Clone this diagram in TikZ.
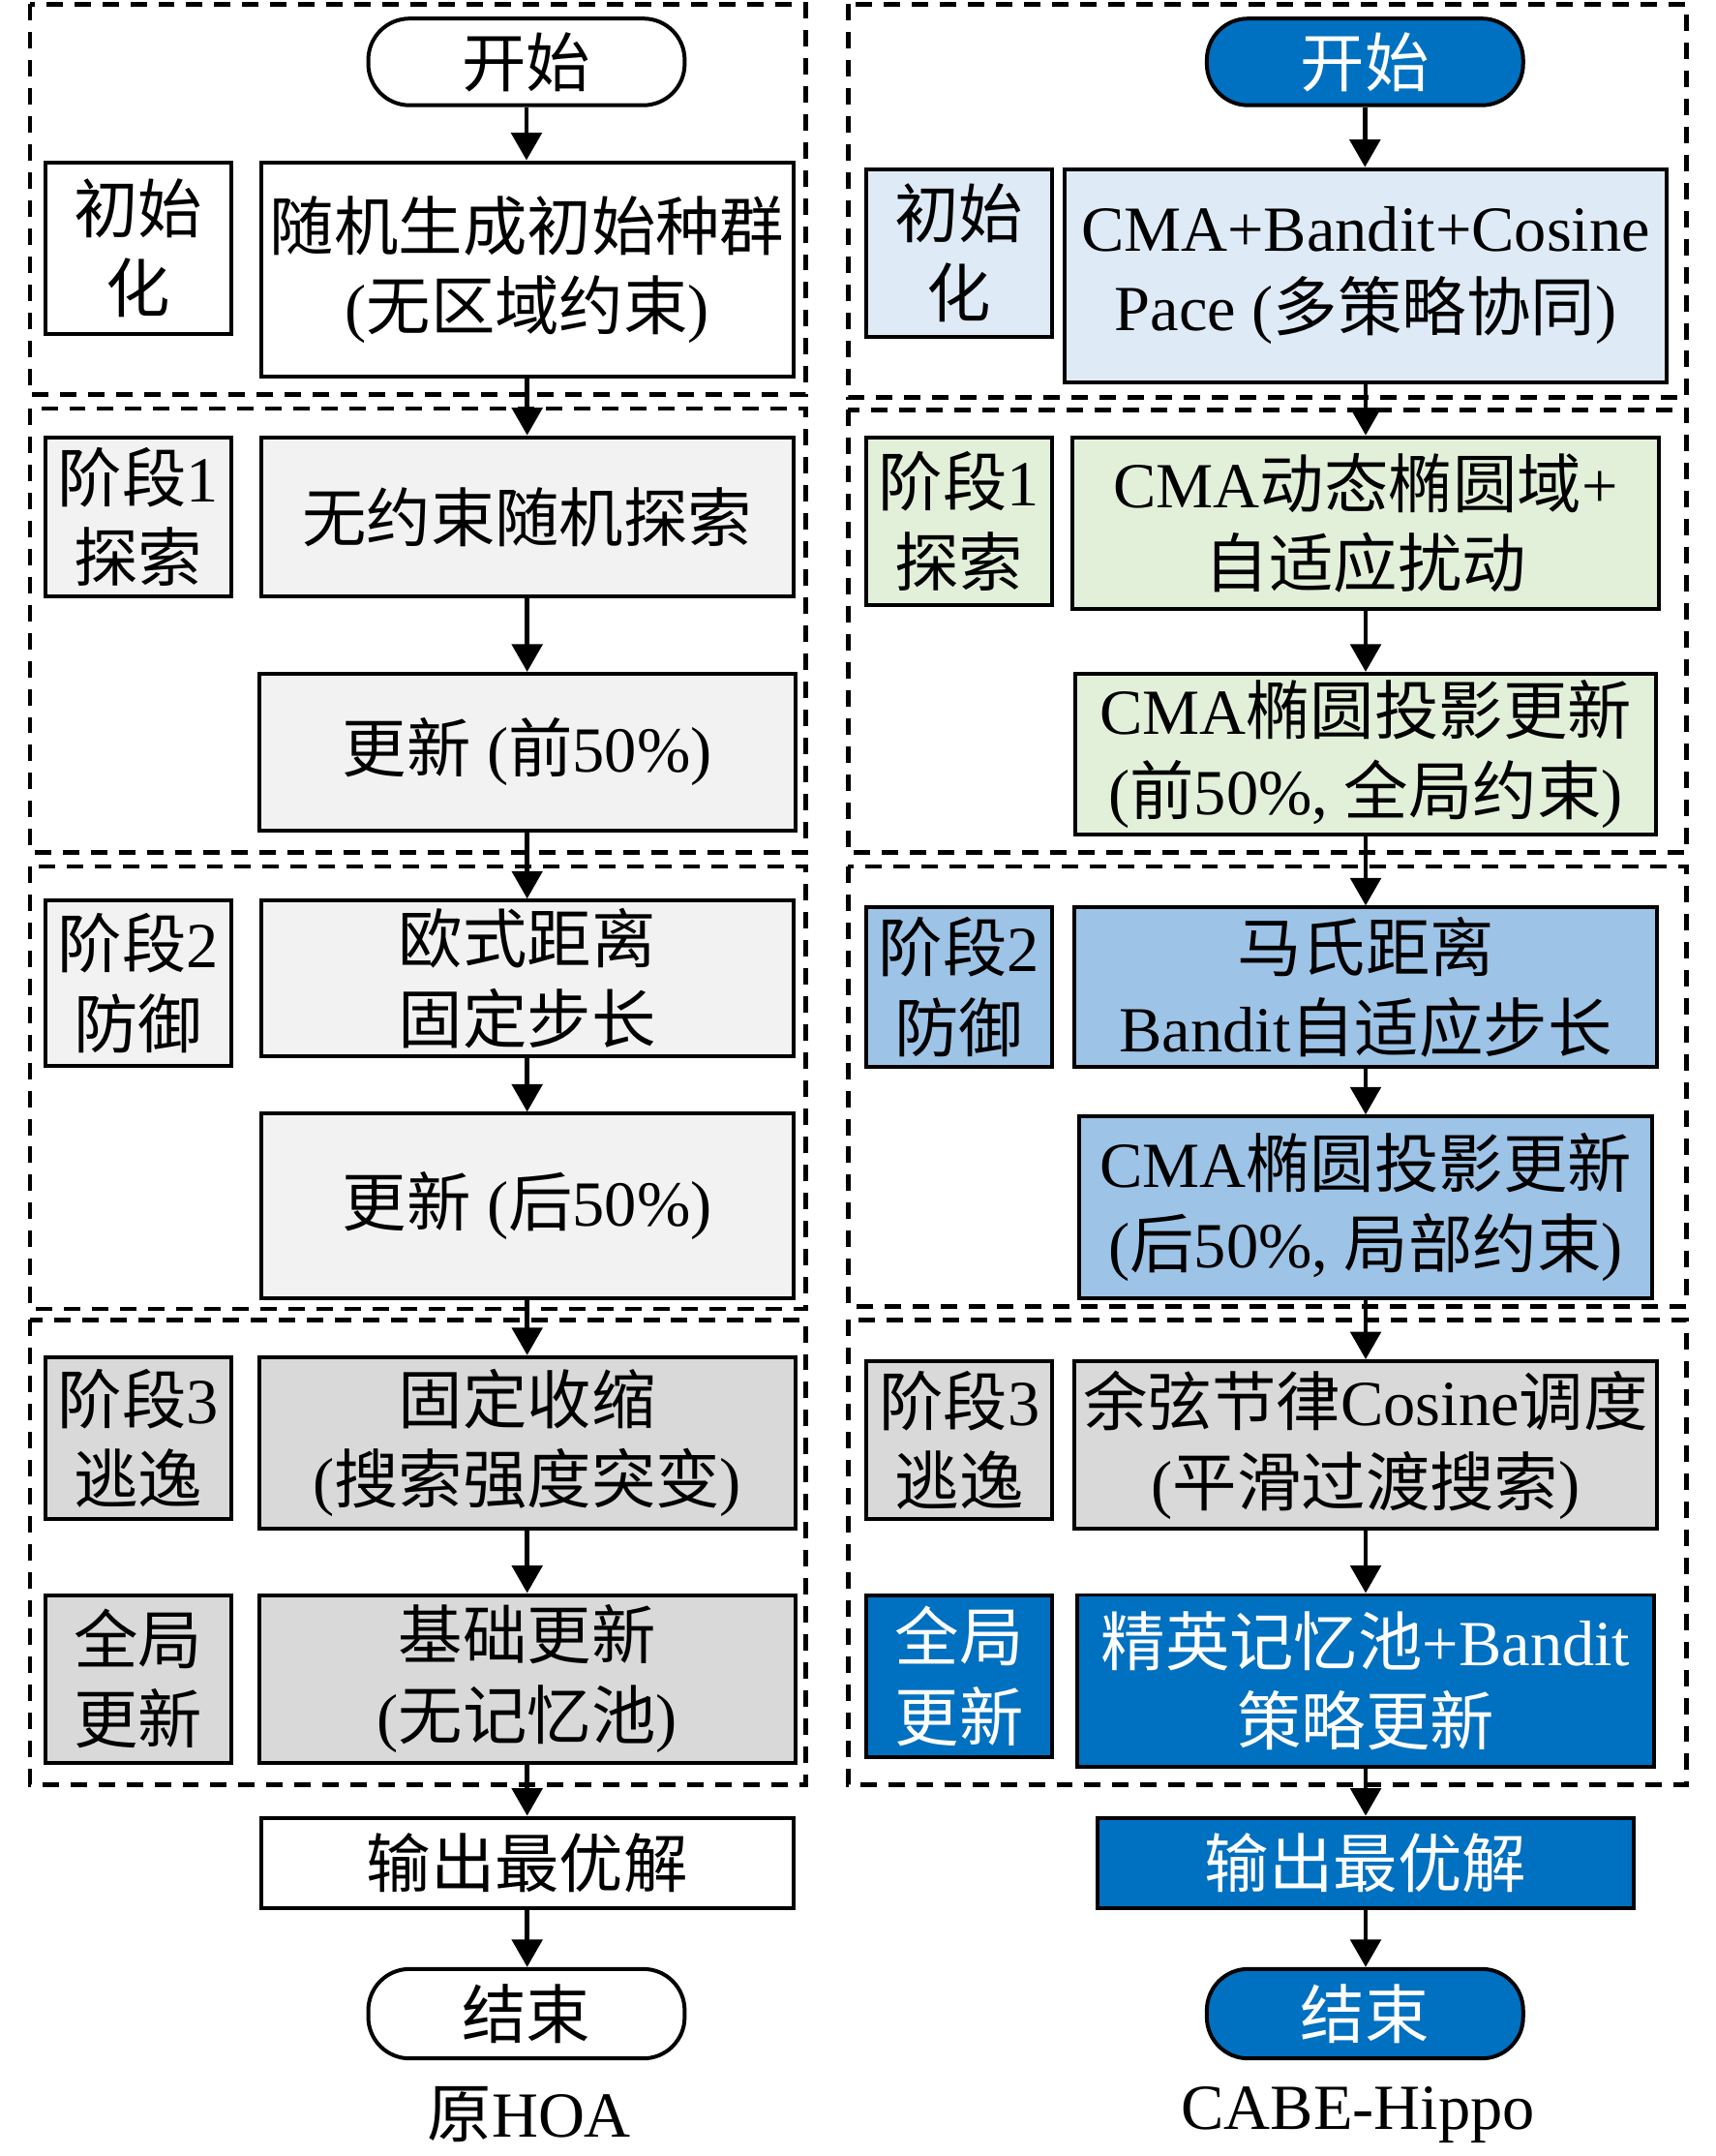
\documentclass[tikz,border=0pt]{standalone}
\usepackage{fontspec}
\setmainfont{Liberation Serif}
\newfontfamily\cjk{Noto Sans CJK SC}
\newcommand{\zh}[1]{{\cjk #1}}
\usetikzlibrary{arrows.meta}
\definecolor{lgray}{HTML}{F2F2F2}
\definecolor{mgray}{HTML}{D9D9D9}
\definecolor{lblue}{HTML}{DEEBF7}
\definecolor{lgreen}{HTML}{E2F0D9}
\definecolor{mblue}{HTML}{9DC3E6}
\definecolor{dblue}{HTML}{0070C0}

\begin{document}
\begin{tikzpicture}[x=0.01cm, y=-0.01cm,
  txt/.style={font=\fontsize{13.3pt}{16.5pt}\selectfont, align=center, inner sep=1pt},
  proc/.style={txt, draw, line width=0.8pt, rectangle},
  tag/.style={proc, minimum width=1.35cm},
  term/.style={txt, draw, line width=0.8pt, rounded corners=0.3cm, minimum width=2.3cm, minimum height=0.63cm},
  dark/.style={fill=dblue, text=white},
  grp/.style={dash pattern=on 3.4pt off 2.4pt, line width=0.9pt},
  arr/.style={line width=0.9pt, -{Triangle[length=0.2cm,width=0.22cm]}}]

\useasboundingbox (0,0) rectangle (1248,1568);

\foreach \ya/\yb in {3/287, 297/620, 630/952, 960/1298}
\draw[grp] (22,\ya) rectangle (586,\yb);
\foreach \ya/\yb in {3/289, 298/620, 630/950, 960/1298}
\draw[grp] (617,\ya) rectangle (1227,\yb);

% original HOA
\node[term] (startL) at (383,45) {\zh{开始}};
\node[tag, minimum height=1.25cm] (initL) at (100.5,180.5) {\zh{初始}\\\zh{化}};
\node[proc, minimum width=3.87cm, minimum height=1.56cm] (genL) at (383.5,196) {\zh{随机生成初始种群}\\(\zh{无区域约束})};
\node[tag, fill=lgray, minimum height=1.16cm] (s1L) at (100.5,376) {\zh{阶段}1\\\zh{探索}};
\node[proc, fill=lgray, minimum width=3.87cm, minimum height=1.16cm] (exL) at (383.5,376) {\zh{无约束随机探索}};
\node[proc, fill=lgray, minimum width=3.9cm, minimum height=1.14cm] (up1L) at (383.5,547) {\zh{更新} (\zh{前}50\%)};
\node[tag, fill=lgray, minimum height=1.2cm] (s2L) at (100.5,715) {\zh{阶段}2\\\zh{防御}};
\node[proc, fill=lgray, minimum width=3.87cm, minimum height=1.13cm] (defL) at (383.5,711.5) {\zh{欧式距离}\\\zh{固定步长}};
\node[proc, fill=lgray, minimum width=3.87cm, minimum height=1.34cm] (up2L) at (383.5,877) {\zh{更新} (\zh{后}50\%)};
\node[tag, fill=mgray, minimum height=1.18cm] (s3L) at (100.5,1046) {\zh{阶段}3\\\zh{逃逸}};
\node[proc, fill=mgray, minimum width=3.9cm, minimum height=1.25cm] (escL) at (383.5,1049.5) {\zh{固定收缩}\\(\zh{搜索强度突变})};
\node[tag, fill=mgray, minimum height=1.22cm] (glL) at (100.5,1221) {\zh{全局}\\\zh{更新}};
\node[proc, fill=mgray, minimum width=3.9cm, minimum height=1.22cm] (guL) at (383.5,1221) {\zh{基础更新}\\(\zh{无记忆池})};
\node[proc, minimum width=3.87cm, minimum height=0.66cm] (outL) at (383.5,1355) {\zh{输出最优解}};
\node[term, minimum height=0.65cm] (endL) at (383,1464.5) {\zh{结束}};
\node[txt] (capL) at (385,1538) {\zh{原}HOA};

% CABE-Hippo
\node[term, dark] (startR) at (993,45) {\zh{开始}};
\node[tag, fill=lblue, minimum height=1.22cm] (initR) at (697.5,184) {\zh{初始}\\\zh{化}};
\node[proc, fill=lblue, minimum width=4.38cm, minimum height=1.55cm] (genR) at (993.5,200.5) {CMA+Bandit+Cosine\\Pace (\zh{多策略协同})};
\node[tag, fill=lgreen, minimum height=1.22cm] (s1R) at (697.5,379) {\zh{阶段}1\\\zh{探索}};
\node[proc, fill=lgreen, minimum width=4.26cm, minimum height=1.25cm] (exR) at (993.5,380.5) {CMA\zh{动态椭圆域}+\\\zh{自适应扰动}};
\node[proc, fill=lgreen, minimum width=4.22cm, minimum height=1.17cm] (up1R) at (993.5,548.5) {CMA\zh{椭圆投影更新}\\(\zh{前}50\%, \zh{全局约束})};
\node[tag, fill=mblue, minimum height=1.16cm] (s2R) at (697.5,718) {\zh{阶段}2\\\zh{防御}};
\node[proc, fill=mblue, minimum width=4.24cm, minimum height=1.16cm] (defR) at (993.5,718) {\zh{马氏距离}\\Bandit\zh{自适应步长}};
\node[proc, fill=mblue, minimum width=4.16cm, minimum height=1.32cm] (up2R) at (993.5,878) {CMA\zh{椭圆投影更新}\\(\zh{后}50\%, \zh{局部约束})};
\node[tag, fill=mgray, minimum height=1.15cm] (s3R) at (698,1047.5) {\zh{阶段}3\\\zh{逃逸}};
\node[proc, fill=mgray, minimum width=4.24cm, minimum height=1.22cm] (escR) at (993.5,1051) {\zh{余弦节律}Cosine\zh{调度}\\(\zh{平滑过渡搜索})};
\node[tag, dark, minimum height=1.18cm] (glR) at (698,1219) {\zh{全局}\\\zh{更新}};
\node[proc, dark, minimum width=4.2cm, minimum height=1.25cm] (guR) at (993.5,1222.5) {\zh{精英记忆池}+Bandit\\\zh{策略更新}};
\node[proc, dark, minimum width=3.9cm, minimum height=0.66cm] (outR) at (993.5,1355) {\zh{输出最优解}};
\node[term, dark, minimum height=0.65cm] (endR) at (993,1464.5) {\zh{结束}};
\node[txt] (capR) at (988,1538) {CABE-Hippo};

\foreach \a/\b in {startL/genL, genL/exL, exL/up1L, up1L/defL, defL/up2L, up2L/escL, escL/guL, guL/outL, outL/endL,
  startR/genR, genR/exR, exR/up1R, up1R/defR, defR/up2R, up2R/escR, escR/guR, guR/outR, outR/endR}
\draw[arr] (\a.south) -- (\a.south |- \b.north);

\end{tikzpicture}
\end{document}
